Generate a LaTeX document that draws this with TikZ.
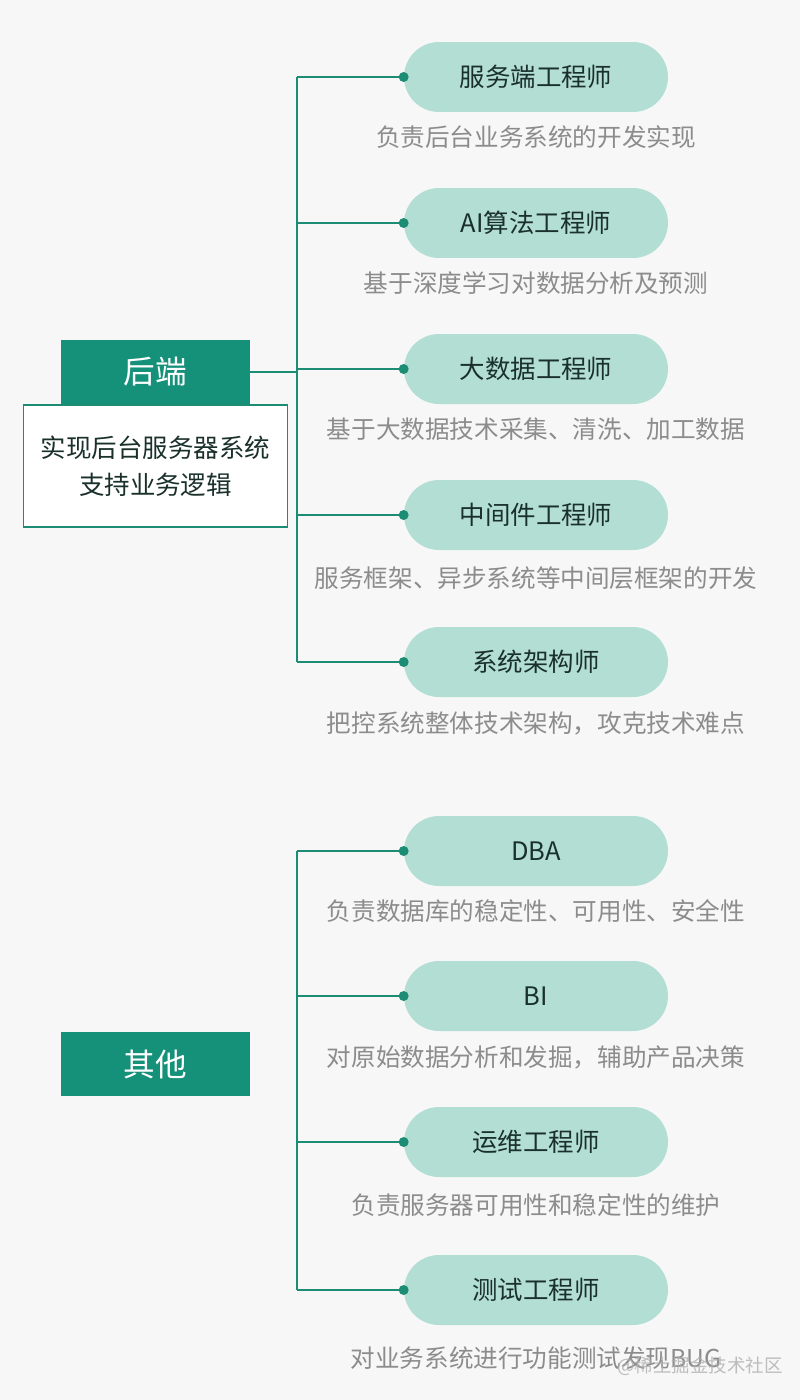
\documentclass[tikz,border=0pt]{standalone}
\usepackage{fontspec}
\setmainfont{Noto Sans CJK SC}
\usepackage{tikz}
\usetikzlibrary{calc,positioning}
\definecolor{rl-bg}{HTML}{F7F7F7}
\definecolor{rl-head}{HTML}{15917A}
\definecolor{rl-pill}{HTML}{B3DED3}
\definecolor{rl-line}{HTML}{1C8C74}
\definecolor{rl-ink}{HTML}{1A302B}
\definecolor{rl-gray}{HTML}{8C8C8C}

\begin{document}
\begin{tikzpicture}[x=0.02cm, y=-0.02cm,
    head/.style={fill=rl-head, text=white, minimum width=3.78cm, minimum height=1.28cm,
        inner sep=0pt, font=\fontsize{18}{20}\selectfont},
    note/.style={draw=rl-line, line width=1.1pt, fill=white, minimum width=5.28cm,
        minimum height=2.44cm, align=center, text=rl-ink, font=\fontsize{14.5}{21.5}\selectfont},
    pill/.style={fill=rl-pill, rounded corners=0.7cm, minimum width=5.28cm, minimum height=1.4cm,
        inner sep=0pt, text=rl-ink, font=\fontsize{14.5}{17}\selectfont},
    desc/.style={text=rl-gray, inner sep=0pt, font=\fontsize{14}{17}\selectfont},
    link/.style={draw=rl-line, line width=1.1pt},
    knob/.style={circle, fill=rl-line, inner sep=0pt, minimum size=0.2cm}]
    \useasboundingbox[fill=rl-bg] (0,0) rectangle (800,1400);
    % back end group
    \node[head] (hd1) at (155.5,372) {后端};
    \node[note, below=0pt of hd1] (nt1) {实现后台服务器系统\\支持业务逻辑};
    \node[pill] (be1) at (536,77) {服务端工程师};
    \node[pill] (be2) at (536,223) {AI算法工程师};
    \node[pill] (be3) at (536,369) {大数据工程师};
    \node[pill] (be4) at (536,515) {中间件工程师};
    \node[pill] (be5) at (536,662) {系统架构师};
    \node[desc] (bd1) at ([yshift=-1.2cm]be1.center) {负责后台业务系统的开发实现};
    \node[desc] (bd2) at ([yshift=-1.2cm]be2.center) {基于深度学习对数据分析及预测};
    \node[desc] (bd3) at ([yshift=-1.2cm]be3.center) {基于大数据技术采集、清洗、加工数据};
    \node[desc] (bd4) at ([yshift=-1.26cm]be4.center) {服务框架、异步系统等中间层框架的开发};
    \node[desc] (bd5) at ([yshift=-1.22cm]be5.center) {把控系统整体技术架构，攻克技术难点};
    \coordinate (tr1) at (297,372);
    \draw[link] (hd1.east) -- (tr1);
    \draw[link] (tr1 |- be1.west) -- (tr1 |- be5.west);
    \foreach \p in {be1,be2,be3,be4,be5} {
        \draw[link] (tr1 |- \p.west) -- (\p.west);
        \node[knob] at (\p.west) {};
    }
    % other group
    \node[head] (hd2) at (155.5,1064) {其他};
    \node[pill] (ot1) at (536,851) {DBA};
    \node[pill] (ot2) at (536,996) {BI};
    \node[pill] (ot3) at (536,1142) {运维工程师};
    \node[pill] (ot4) at (536,1290) {测试工程师};
    \node[desc] (od1) at ([yshift=-1.2cm]ot1.center) {负责数据库的稳定性、可用性、安全性};
    \node[desc] (od2) at ([yshift=-1.22cm]ot2.center) {对原始数据分析和发掘，辅助产品决策};
    \node[desc] (od3) at ([yshift=-1.26cm]ot3.center) {负责服务器可用性和稳定性的维护};
    \node[desc] (od4) at ([yshift=-1.36cm]ot4.center) {对业务系统进行功能测试发现BUG};
    \coordinate (tr2) at (297,1064);
    \draw[link] (tr2 |- ot1.west) -- (tr2 |- ot4.west);
    \foreach \p in {ot1,ot2,ot3,ot4} {
        \draw[link] (tr2 |- \p.west) -- (\p.west);
        \node[knob] at (\p.west) {};
    }
    \node[text=rl-gray!70, opacity=0.8, inner sep=0pt, font=\fontsize{10.5}{12}\selectfont]
        (wm) at (700,1366) {@稀土掘金技术社区};
\end{tikzpicture}
\end{document}
